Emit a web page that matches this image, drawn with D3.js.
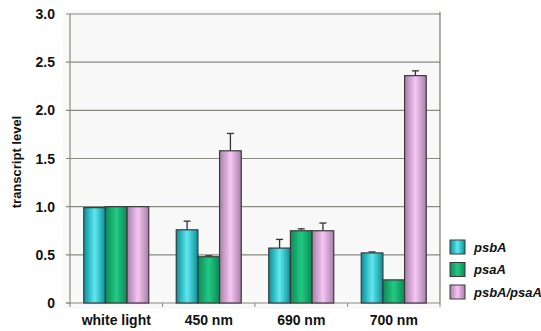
<!DOCTYPE html>
<html><head><meta charset="utf-8">
<script src="https://cdn.jsdelivr.net/npm/d3@7"></script>
<style>body{margin:0;background:#fff}svg{display:block}text{font-family:Arial,"Liberation Sans",sans-serif}</style>
</head><body>
<svg id="c" width="541" height="331"></svg>
<script>
const categories = ["white light","450 nm","690 nm","700 nm"];
const seriesNames = ["psbA","psaA","psbA/psaA"];
const psbA = [0.99, 0.76, 0.57, 0.52];
const psaA = [1.00, 0.48, 0.75, 0.24];
const ratio = [1.00, 1.58, 0.75, 2.36];
const psbAErr = [0, 0.09, 0.09, 0.01];
const psaAErr = [0, 0.01, 0.02, 0];
const ratioErr = [0, 0.18, 0.08, 0.05];
const yTicks = [0, 0.5, 1.0, 1.5, 2.0, 2.5, 3.0];
const yTickLabels = ["0","0.5","1.0","1.5","2.0","2.5","3.0"];

const colors = [
  {edge:"#0a8f98", mid:"#5fe8ef"},
  {edge:"#0b8a55", mid:"#22c985"},
  {edge:"#a77fa8", mid:"#f6c6f4"}
];
const seriesVals = [psbA, psaA, ratio];
const seriesErr = [psbAErr, psaAErr, ratioErr];

const svg = d3.select("#c");
const L=70, R=440, T=14, B=303;
const x = d3.scaleBand().domain(categories).range([L,R]).paddingInner(0).paddingOuter(0);
const x1 = d3.scaleBand().domain(seriesNames).range([13.75, x.bandwidth()-13.75]);
const y = d3.scaleLinear().domain([0,3]).range([B,T]);

const defs = svg.append("defs");
colors.forEach((c,i)=>{
  const g = defs.append("linearGradient").attr("id","g"+i).attr("x1","0").attr("x2","1").attr("y1","0").attr("y2","0");
  g.append("stop").attr("offset","0").attr("stop-color",c.edge);
  g.append("stop").attr("offset","0.5").attr("stop-color",c.mid);
  g.append("stop").attr("offset","1").attr("stop-color",c.edge);
});

// plot background
svg.append("rect").attr("x",63).attr("y",T-4).attr("width",R-63).attr("height",B-T+10).attr("fill","#f8f8f8");

// gridlines
svg.append("g").selectAll("line").data(yTicks.filter(d=>d>0)).join("line")
  .attr("x1",66).attr("x2",R).attr("y1",d=>y(d)).attr("y2",d=>y(d))
  .attr("stroke","#8a8a80").attr("stroke-width",1.2);

// axes lines
svg.append("line").attr("x1",L).attr("x2",L).attr("y1",T).attr("y2",B+1).attr("stroke","#8a8a80").attr("stroke-width",1.2);
svg.append("line").attr("x1",R).attr("x2",R).attr("y1",T-2).attr("y2",B).attr("stroke","#777").attr("stroke-width",1.2);
svg.append("line").attr("x1",66).attr("x2",R).attr("y1",B).attr("y2",B).attr("stroke","#8a8a80").attr("stroke-width",1.2);
svg.append("line").attr("x1",66).attr("x2",L).attr("y1",B).attr("y2",B).attr("stroke","#8a8a80");
// x tick marks at category boundaries
const bounds = categories.map(c=>x(c)).concat([R]);
svg.append("g").selectAll("line").data(bounds).join("line")
  .attr("x1",d=>d).attr("x2",d=>d).attr("y1",B).attr("y2",B+4).attr("stroke","#8a8a80");

// y tick labels
svg.append("g").selectAll("text").data(yTicks).join("text")
  .attr("x",55).attr("y",d=>y(d)+5).attr("text-anchor","end")
  .attr("font-size",14).attr("font-weight","bold").attr("fill","#111")
  .text((d,i)=>yTickLabels[i]);

// x labels
svg.append("g").selectAll("text").data(categories).join("text")
  .attr("x",d=>x(d)+x.bandwidth()/2).attr("y",325).attr("text-anchor","middle")
  .attr("font-size",14).attr("font-weight","bold").attr("fill","#111").text(d=>d);

// y axis title
svg.append("text").attr("transform","translate(21,162) rotate(-90)").attr("text-anchor","middle")
  .attr("font-size",13).attr("font-weight","bold").attr("fill","#111").text("transcript level");

// bars
seriesNames.forEach((s,si)=>{
  const g = svg.append("g");
  const data = categories.map((c,ci)=>({c, v:seriesVals[si][ci], e:seriesErr[si][ci]}));
  // error bars
  g.selectAll("line.e").data(data.filter(d=>d.e>0)).join("line")
    .attr("x1",d=>x(d.c)+x1(s)+x1.bandwidth()/2).attr("x2",d=>x(d.c)+x1(s)+x1.bandwidth()/2)
    .attr("y1",d=>y(d.v)).attr("y2",d=>y(d.v+d.e)).attr("stroke","#333").attr("stroke-width",1.3);
  g.selectAll("line.c").data(data.filter(d=>d.e>0)).join("line")
    .attr("x1",d=>x(d.c)+x1(s)+x1.bandwidth()/2-3.5).attr("x2",d=>x(d.c)+x1(s)+x1.bandwidth()/2+3.5)
    .attr("y1",d=>y(d.v+d.e)).attr("y2",d=>y(d.v+d.e)).attr("stroke","#333").attr("stroke-width",1.3);
  g.selectAll("rect").data(data).join("rect")
    .attr("x",d=>x(d.c)+x1(s)).attr("width",x1.bandwidth())
    .attr("y",d=>y(d.v)).attr("height",d=>y(0)-y(d.v))
    .attr("fill","url(#g"+si+")").attr("stroke","#3a3a3a").attr("stroke-width",1.2);
});

// legend
const leg = svg.append("g");
seriesNames.forEach((s,i)=>{
  const yy = 240 + i*22.5;
  leg.append("rect").attr("x",450).attr("y",yy).attr("width",15).attr("height",14)
    .attr("fill","url(#g"+i+")").attr("stroke","#3a3a3a").attr("stroke-width",1);
  leg.append("text").attr("x",474).attr("y",yy+11.5).attr("font-size",13)
    .attr("font-weight","bold").attr("font-style","italic").attr("fill","#111").text(s);
});
</script>
</body></html>
